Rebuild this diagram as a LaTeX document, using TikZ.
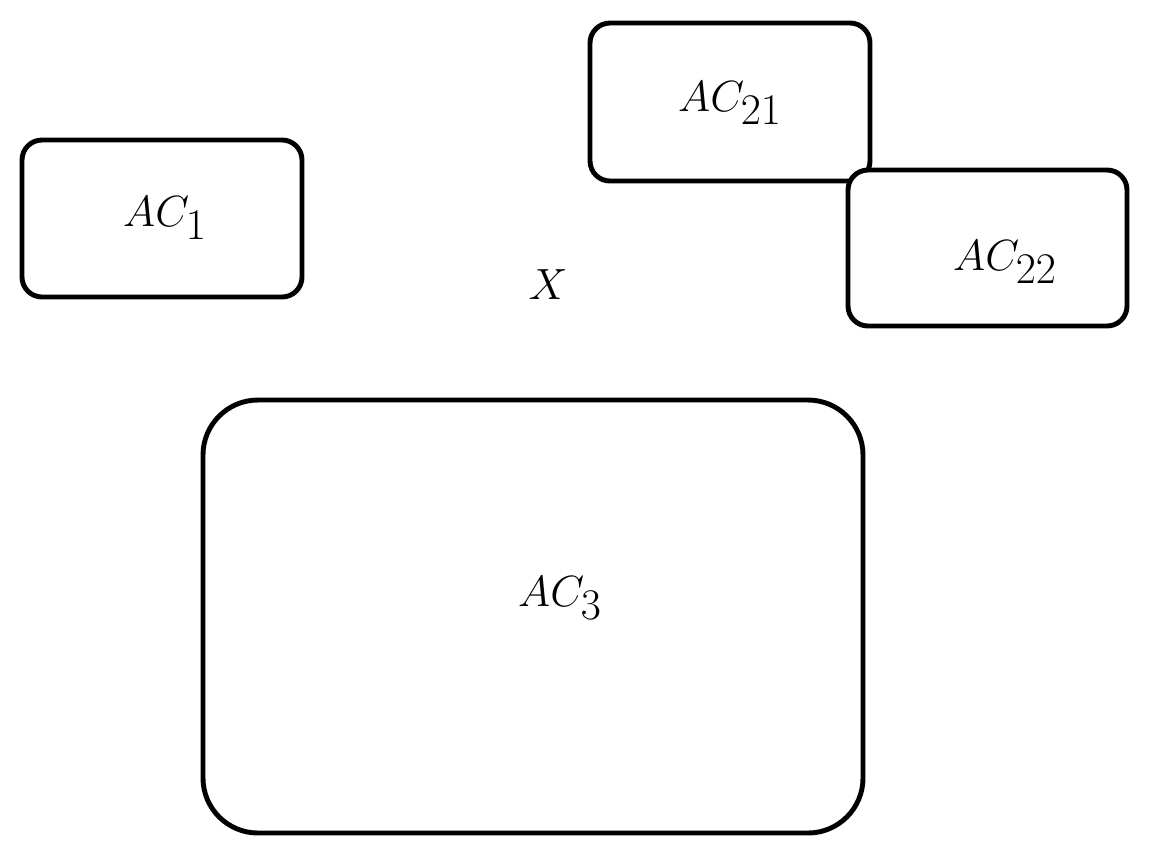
\documentclass[tikz,border=0pt]{standalone}
\newcommand{\aclab}[1]{{\fontsize{36}{40}\selectfont$AC_{#1}$}}
\begin{document}
\begin{tikzpicture}[x=0.02cm,y=-0.02cm,
  box/.style={draw,line width=2.8pt,fill=white},
  lab/.style={inner sep=0pt}]
\useasboundingbox (0,0) rectangle (1151,860);
\draw[box,rounded corners=0.4cm] (22,140) rectangle (302,297);
\node[lab] (t1) at (165,218) {\aclab{1}};
\draw[box,rounded corners=0.4cm] (590,23) rectangle (870,181);
\node[lab] (t21) at (730,103) {\aclab{21}};
\draw[box,rounded corners=0.4cm] (848,170) rectangle (1127,326);
\node[lab] (t22) at (1005,262) {\aclab{22}};
\draw[box,rounded corners=1.1cm] (203,400) rectangle (863,833);
\node[lab] (t3) at (560,598) {\aclab{3}};
\node[lab] (x) at (548,285) {\fontsize{80}{90}\selectfont$X$};
\end{tikzpicture}
\end{document}
